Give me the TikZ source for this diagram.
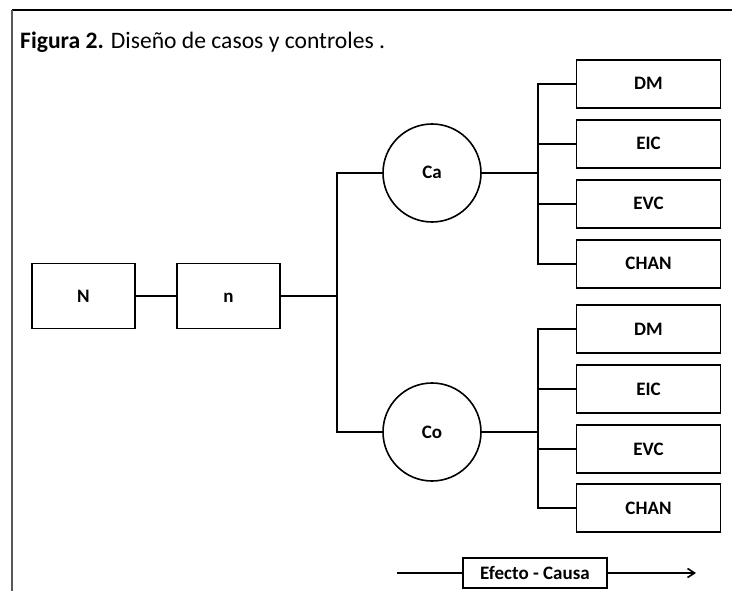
\documentclass[tikz,border=0pt]{standalone}
\usepackage{fontspec}
\setmainfont{Carlito}
\usetikzlibrary{arrows.meta}
\begin{document}
\begin{tikzpicture}[x=1pt,y=-1pt,
  lbl/.style={font=\fontsize{19}{22}\selectfont\bfseries,text height=12pt,text depth=0pt},
  box/.style={draw,line width=1.6pt,minimum width=144pt,minimum height=48pt,inner sep=0pt,lbl},
  sbox/.style={draw,line width=1.6pt,minimum width=103pt,minimum height=65pt,inner sep=0pt,lbl},
  circ/.style={draw,line width=1.6pt,circle,minimum size=98pt,inner sep=0pt,lbl},
  conn/.style={line width=1.6pt},
  ]
\useasboundingbox (0,0) rectangle (732,591);
\draw[line width=1.2pt] (12,10) -- (732,10);
\draw[line width=1.4pt,gray!70!black] (12,10) -- (12,591);
\node[anchor=base west,font=\fontsize{23.6}{28}\selectfont,inner sep=0pt] (title) at (20,49) {\textbf{Figura 2.} Diseño de casos y controles .};

\node[sbox] (N) at (83.5,296) {N};
\node[sbox] (n) at (228.5,296) {n};
\node[circ] (Ca) at (432,173) {Ca};
\node[circ] (Co) at (432,432) {Co};
\coordinate (bus) at (337,296);
\coordinate (busA) at (538,173);
\coordinate (busB) at (538,432);

\foreach \name/\lab/\yy in {a1/DM/84,a2/EIC/144,a3/EVC/204,a4/CHAN/264,b1/DM/329,b2/EIC/389,b3/EVC/449,b4/CHAN/508}{
  \node[box] (\name) at (648.5,\yy) {\lab};
}

\draw[conn] (N) -- (n);
\draw[conn] (n) -- (bus);
\draw[conn] (Ca.west) -| (bus) |- (Co.west);
\draw[conn] (Ca) -- (busA);
\draw[conn] (Co) -- (busB);
\draw[conn] (a1.west) -| (busA |- a4) -- (a4.west);
\draw[conn] (busA |- a2) -- (a2.west);
\draw[conn] (busA |- a3) -- (a3.west);
\draw[conn] (b1.west) -| (busB |- b4) -- (b4.west);
\draw[conn] (busB |- b2) -- (b2.west);
\draw[conn] (busB |- b3) -- (b3.west);

\node[draw,line width=1.6pt,minimum width=144pt,minimum height=30pt,inner sep=0pt,lbl] (ec) at (535,573) {Efecto - Causa};
\coordinate (arrS) at (397,573);
\coordinate (arrE) at (696,573);
\draw[conn] (arrS) -- (ec);
\draw[conn,-{Straight Barb[length=7pt,width=9pt]}] (ec) -- (arrE);
\end{tikzpicture}
\end{document}
